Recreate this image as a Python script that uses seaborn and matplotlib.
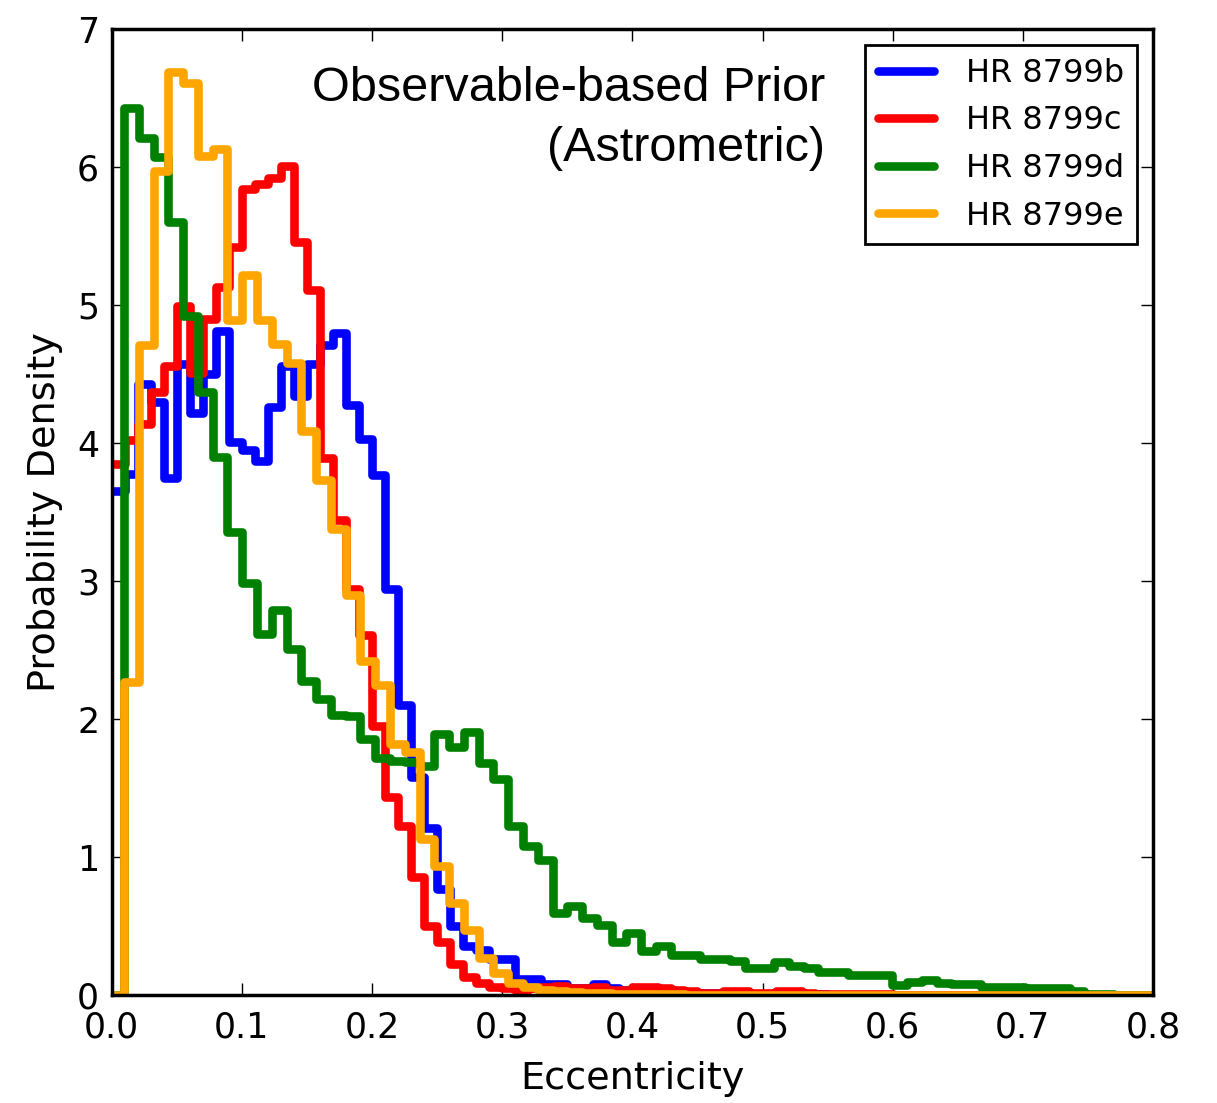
import numpy as np
import pandas as pd
import matplotlib
matplotlib.use("Agg")
import matplotlib.pyplot as plt
import seaborn as sns

# ---------------- data (probability density per bin) ----------------
labels = ["HR 8799b", "HR 8799c", "HR 8799d", "HR 8799e"]
colors = ["#0000ff", "#ff0000", "#008000", "#ffa500"]

# HR 8799b and HR 8799c: bins of 0.01 starting at e = 0
bc_start = 0.0
bc_width = 0.01
dens_b = [3.65, 3.78, 4.43, 4.30, 3.75, 4.57, 4.22, 4.50, 4.81, 4.01,
          3.95, 3.87, 4.26, 4.56, 4.34, 4.57, 4.71, 4.80, 4.28, 4.03,
          3.77, 2.94, 2.10, 1.58, 1.21, 0.77, 0.50, 0.36, 0.33, 0.26,
          0.26, 0.12, 0.12, 0.08, 0.08, 0.05, 0.05, 0.085, 0.05, 0.04,
          0.04, 0.03, 0.04, 0.03, 0.02, 0.02, 0.02, 0.015, 0.015, 0.01,
          0.01, 0.01, 0.01, 0.008, 0.008, 0.006, 0.006, 0.005, 0.005, 0.004,
          0.004, 0.003, 0.003, 0.002, 0.002, 0.002, 0.002, 0.001, 0.001, 0.001,
          0.001, 0.001, 0.001, 0.001, 0.0, 0.0, 0.0, 0.0, 0.0, 0.0]
dens_c = [3.85, 4.02, 4.14, 4.37, 4.56, 4.99, 4.51, 4.90, 5.13, 5.42,
          5.84, 5.88, 5.92, 6.01, 5.46, 5.11, 3.89, 3.44, 2.94, 2.61,
          1.95, 1.44, 1.23, 0.86, 0.50, 0.39, 0.23, 0.135, 0.09, 0.06,
          0.05, 0.04, 0.05, 0.06, 0.07, 0.05, 0.05, 0.06, 0.04, 0.04,
          0.06, 0.06, 0.05, 0.04, 0.03, 0.02, 0.02, 0.03, 0.03, 0.02,
          0.02, 0.03, 0.03, 0.02, 0.01, 0.01, 0.01, 0.01, 0.008, 0.008,
          0.006, 0.006, 0.005, 0.005, 0.004, 0.004, 0.003, 0.003, 0.002, 0.002,
          0.002, 0.002, 0.001, 0.001, 0.001, 0.001, 0.001, 0.001, 0.0, 0.0]

# HR 8799d and HR 8799e: bins of 0.01135 starting at e = 0.0095
de_start = 0.0095
de_width = 0.01135
dens_d = [6.43, 6.21, 6.07, 5.60, 4.92, 4.37, 3.90, 3.36, 2.99, 2.62,
          2.79, 2.51, 2.28, 2.15, 2.03, 2.02, 1.86, 1.72, 1.70, 1.69,
          1.66, 1.89, 1.80, 1.91, 1.68, 1.57, 1.23, 1.08, 0.98, 0.60,
          0.65, 0.56, 0.51, 0.39, 0.45, 0.32, 0.36, 0.29, 0.29, 0.26,
          0.26, 0.25, 0.20, 0.20, 0.24, 0.21, 0.20, 0.17, 0.17, 0.15,
          0.15, 0.15, 0.075, 0.10, 0.11, 0.09, 0.085, 0.08, 0.063, 0.06,
          0.06, 0.05, 0.05, 0.05, 0.03, 0.01, 0.01, 0.005, 0.005, 0.003]
dens_e = [2.27, 4.71, 5.97, 6.69, 6.61, 6.08, 6.13, 4.89, 5.22, 4.89,
          4.72, 4.58, 4.09, 3.73, 3.38, 2.90, 2.42, 2.25, 1.82, 1.76,
          1.13, 0.94, 0.67, 0.47, 0.27, 0.16, 0.09, 0.06, 0.04, 0.03,
          0.025, 0.02, 0.015, 0.012, 0.01, 0.01, 0.008, 0.008, 0.006, 0.006,
          0.005, 0.005, 0.004, 0.004, 0.003, 0.003, 0.003, 0.002, 0.002, 0.002,
          0.002, 0.001, 0.001, 0.001, 0.001, 0.001, 0.001, 0.001, 0.001, 0.001,
          0.001, 0.001, 0.001, 0.001, 0.001, 0.0, 0.0, 0.0, 0.0, 0.0]

xticks = [0.0, 0.1, 0.2, 0.3, 0.4, 0.5, 0.6, 0.7, 0.8]
yticks = [0, 1, 2, 3, 4, 5, 6, 7]

# ---------------- style ----------------
sns.set_style("ticks")
plt.rcParams["font.family"] = ["DejaVu Sans"]
plt.rcParams.update({
    "xtick.direction": "in", "ytick.direction": "in",
    "xtick.top": True, "ytick.right": True,
    "xtick.major.size": 8.5, "ytick.major.size": 8.5,
    "xtick.major.width": 1.0, "ytick.major.width": 1.0,
    "xtick.color": "black", "ytick.color": "black",
    "xtick.labelcolor": "black", "ytick.labelcolor": "black",
    "axes.edgecolor": "black", "axes.labelcolor": "black",
    "text.color": "black",
})

fig = plt.figure(figsize=(12.17, 11.03), dpi=100)
ax = fig.add_axes([0.0918, 0.0976, 0.8556, 0.8761])


def make_frame(start, width, dens, lead_zero):
    n = len(dens)
    edges = start + width * np.arange(n + 1)
    centers = (edges[:-1] + edges[1:]) / 2
    w = list(dens)
    if lead_zero:
        edges = np.concatenate([[0.0], edges])
        centers = np.concatenate([[start / 2], centers])
        w = [0.0] + w
    return pd.DataFrame({"e": centers, "w": w}), [float(v) for v in edges]


series = [
    (bc_start, bc_width, dens_b, False),
    (bc_start, bc_width, dens_c, False),
    (de_start, de_width, dens_d, True),
    (de_start, de_width, dens_e, True),
]

for (start, width, dens, lead), lab, col in zip(series, labels, colors):
    df, edges = make_frame(start, width, dens, lead)
    sns.histplot(data=df, x="e", weights="w", bins=edges, stat="count",
                 element="step", fill=False, color=col, linewidth=6.2,
                 label=lab, ax=ax)

ax.set_xlim(0, 0.8)
ax.set_ylim(0, 7)
ax.set_xticks(xticks)
ax.set_xticklabels([f"{t:.1f}" for t in xticks])
ax.set_yticks(yticks)
ax.set_yticklabels([str(t) for t in yticks], va="center_baseline")
ax.tick_params(axis="x", labelsize=25, pad=11)
ax.tick_params(axis="y", labelsize=25, pad=9)
ax.set_xlabel("Eccentricity", fontsize=27.5, labelpad=12)
ax.set_ylabel("Probability Density", fontsize=27.5, labelpad=10)
for sp in ax.spines.values():
    sp.set_visible(True)
    sp.set_linewidth(2.5)
    sp.set_color("black")

leg = ax.legend(loc="upper right", fontsize=23, frameon=True, fancybox=False,
                edgecolor="black", framealpha=1, borderaxespad=0.5,
                handlelength=1.75, labelspacing=0.52, handletextpad=1.0)
leg.get_frame().set_linewidth(2.0)
for t in leg.get_texts():
    t.set_color("black")

ax.text(0.685, 0.962, "Observable-based Prior\n(Astrometric)",
        transform=ax.transAxes, ha="right", va="top", fontsize=35,
        family=["Liberation Sans", "DejaVu Sans"], linespacing=1.45,
        multialignment="right", color="black")

fig.savefig("out.png", dpi=100)
